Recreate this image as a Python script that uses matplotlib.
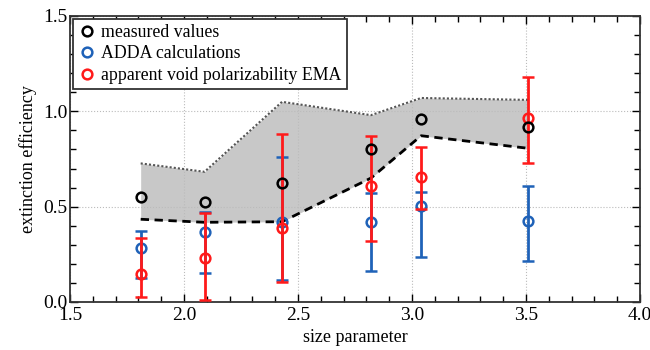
import matplotlib
matplotlib.use('Agg')
import matplotlib.pyplot as plt
from matplotlib.ticker import MultipleLocator
from matplotlib.lines import Line2D

plt.rcParams['font.family'] = ['Liberation Serif', 'DejaVu Serif']

# size parameters
x = [1.81, 2.09, 2.43, 2.82, 3.04, 3.51]

# measured values
meas = [0.552, 0.523, 0.626, 0.80, 0.96, 0.916]

# ADDA calculations (value, low, high)
adda = [0.281, 0.369, 0.418, 0.418, 0.503, 0.425]
adda_lo = [0.128, 0.150, 0.115, 0.164, 0.234, 0.217]
adda_hi = [0.374, 0.474, 0.760, 0.573, 0.578, 0.610]

# apparent void polarizability EMA (value, low, high)
ema = [0.147, 0.229, 0.386, 0.608, 0.654, 0.963]
ema_lo = [0.026, 0.010, 0.103, 0.320, 0.490, 0.727]
ema_hi = [0.336, 0.468, 0.879, 0.870, 0.814, 1.180]

# shaded band
band_lo = [0.434, 0.418, 0.421, 0.650, 0.872, 0.806]
band_hi = [0.727, 0.683, 1.050, 0.980, 1.070, 1.060]

blue = '#1f62b8'
red = '#ff1a1a'

fig = plt.figure(figsize=(6.5, 3.5), dpi=100)
ax = fig.add_axes([70/650, 1-302/350, 570/650, 286/350])

ax.fill_between(x, band_lo, band_hi, color='#c8c8c8', lw=0, zorder=1)
ax.plot(x, band_hi, color='#555555', ls=(0, (1, 1)), lw=1.5, zorder=2)
ax.plot(x, band_lo, color='black', ls=(0, (3, 2)), lw=2, zorder=2)

def err(v, lo, hi):
    return [[a - b for a, b in zip(v, lo)], [c - a for a, c in zip(v, hi)]]

ax.errorbar(x, adda, yerr=err(adda, adda_lo, adda_hi), fmt='o', mfc='none',
            mec=blue, ecolor=blue, mew=1.8, ms=7, elinewidth=2, capsize=4,
            capthick=2, zorder=3)
ax.errorbar(x, ema, yerr=err(ema, ema_lo, ema_hi), fmt='o', mfc='none',
            mec=red, ecolor=red, mew=1.8, ms=7, elinewidth=2, capsize=4,
            capthick=2, zorder=4)
ax.plot(x, meas, 'o', mfc='none', mec='black', mew=1.8, ms=7, zorder=5)

ax.set_xlim(1.5, 4.0)
ax.set_ylim(0.0, 1.5)
ax.xaxis.set_major_locator(MultipleLocator(0.5))
ax.xaxis.set_minor_locator(MultipleLocator(0.1))
ax.yaxis.set_major_locator(MultipleLocator(0.5))
ax.yaxis.set_minor_locator(MultipleLocator(0.1))
ax.tick_params(which='both', direction='in', top=True, right=True, labelsize=14)
ax.tick_params(which='major', length=6, width=1)
ax.tick_params(which='minor', length=4, width=1)
ax.tick_params(axis='y', pad=2)
ax.grid(True, which='major', color='#bbbbbb', ls=':', lw=0.8)
for s in ax.spines.values():
    s.set_linewidth(1.3)
    s.set_color('#333333')

ax.set_xlabel('size parameter', fontsize=13)
ax.set_ylabel('extinction efficiency', fontsize=13)

handles = [Line2D([], [], ls='none', marker='o', mfc='none', mec=c, mew=1.8, ms=7)
           for c in ['black', blue, red]]
labels = ['measured values', 'ADDA calculations', 'apparent void polarizability EMA']
leg = ax.legend(handles, labels, loc='upper left',
                fontsize=12.8, fancybox=False, framealpha=1, edgecolor='#333333',
                handletextpad=0.3, handlelength=1.0, borderpad=0.3,
                labelspacing=0.25, borderaxespad=0.15)
leg.get_frame().set_linewidth(1.3)

fig.savefig('out.png', dpi=100)
